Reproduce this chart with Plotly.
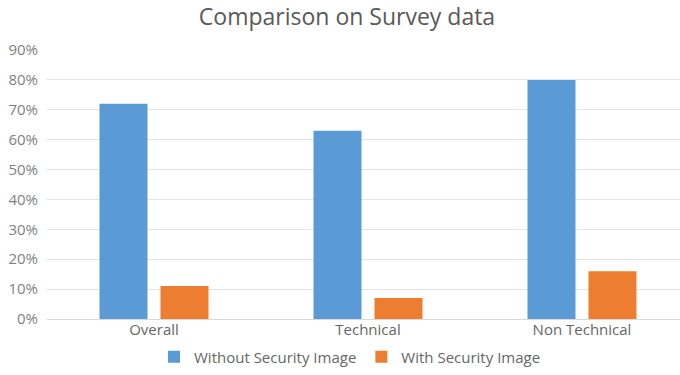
import plotly.graph_objects as go

categories = ["Overall", "Technical", "Non Technical"]
without_security = [0.72, 0.63, 0.80]
with_security = [0.11, 0.07, 0.16]
y_ticks = [0, 0.1, 0.2, 0.3, 0.4, 0.5, 0.6, 0.7, 0.8, 0.9]
y_tick_labels = ["0%", "10%", "20%", "30%", "40%", "50%", "60%", "70%", "80%", "90%"]

FONT = "'Open Sans', Lato, sans-serif"

fig = go.Figure()
fig.add_trace(go.Bar(x=categories, y=without_security, name="Without Security Image",
                     marker=dict(color="#5b9bd5", line=dict(width=0))))
fig.add_trace(go.Bar(x=categories, y=with_security, name="With Security Image",
                     marker=dict(color="#ed7d31", line=dict(width=0))))

fig.update_layout(
    width=680, height=375,
    margin=dict(l=47, r=0, t=50, b=56),
    paper_bgcolor="white", plot_bgcolor="white",
    barmode="group", bargap=0.43, bargroupgap=0.213,
    title=dict(text="Comparison on Survey data", x=347/680, xanchor="center",
               y=1 - 17/375, yanchor="middle",
               font=dict(family=FONT, size=23, color="#595959")),
    font=dict(family=FONT, size=15, color="#7f7f7f"),
    xaxis=dict(range=[-0.5, 2.458], showgrid=False, showline=False, ticks="",
               tickfont=dict(size=15, color="#666666"), fixedrange=True),
    yaxis=dict(range=[0, 0.9], tickvals=y_ticks, ticktext=y_tick_labels,
               showgrid=True, gridcolor="#e4e4e4", gridwidth=1,
               zeroline=True, zerolinecolor="#d9d9d9", zerolinewidth=1,
               showline=False, ticks="", ticklen=0, ticklabelstandoff=8,
               tickfont=dict(size=15, color="#7f7f7f")),
    legend=dict(orientation="h", x=(350 - 47) / 633, xanchor="center",
                y=-(357 - 319) / 269, yanchor="middle",
                font=dict(size=15, color="#666666"), itemwidth=30,
                traceorder="normal"),
    showlegend=True,
)

fig.write_html("out.html")
